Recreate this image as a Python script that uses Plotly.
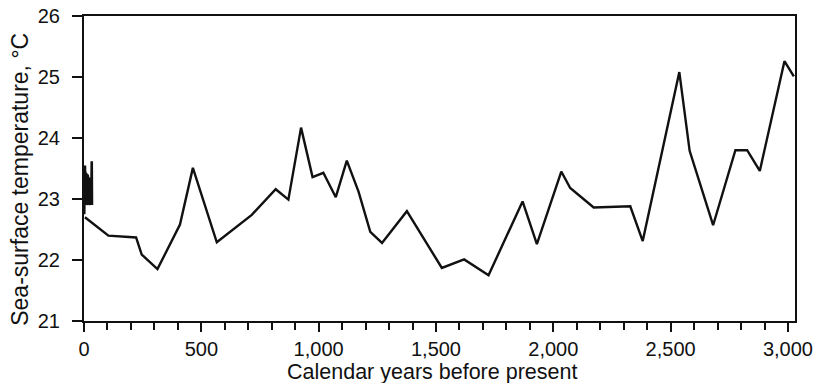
import plotly.graph_objects as go

# Main record: calendar years before present and sea-surface temperature (°C)
years = [4, 104, 222, 246, 313, 409, 464, 566, 715, 817, 871, 925, 974, 1020,
         1073, 1120, 1170, 1220, 1270, 1376, 1525, 1620, 1724, 1869, 1930, 2034,
         2072, 2172, 2328, 2381, 2537, 2581, 2681, 2776, 2826, 2880, 2985, 3025]
sst = [22.70, 22.40, 22.37, 22.09, 21.85, 22.58, 23.51, 22.29, 22.74, 23.16,
       22.99, 24.17, 23.36, 23.43, 23.03, 23.63, 23.12, 22.46, 22.28, 22.80,
       21.87, 22.01, 21.75, 22.96, 22.26, 23.45, 23.18, 22.86, 22.88, 22.31,
       25.08, 23.79, 22.57, 23.80, 23.80, 23.46, 25.26, 25.01]

# Dense recent (multi-decadal) record near the present
recent_years = [1, 2, 3, 4, 5, 6, 7, 8, 9, 10, 11, 12, 13, 14, 15, 16, 17, 18,
                19, 20, 21, 22, 23, 24, 25, 26, 27, 28, 29, 30, 31, 32, 33, 34]
recent_sst = [22.75, 23.50, 22.90, 23.55, 22.95, 23.45, 22.92, 23.40, 22.90,
              23.42, 22.95, 23.38, 22.90, 23.35, 22.93, 23.40, 22.90, 23.36,
              22.95, 23.32, 22.90, 23.35, 22.92, 23.30, 22.95, 23.28, 22.90,
              23.30, 22.95, 23.25, 22.92, 23.40, 23.62, 22.90]

x_ticks = [0, 500, 1000, 1500, 2000, 2500, 3000]
x_ticklabels = ["0", "500", "1,000", "1,500", "2,000", "2,500", "3,000"]
y_ticks = [21, 22, 23, 24, 25, 26]
x_title = "Calendar years before present"
y_title = "Sea-surface temperature, °C"

FONT = "Liberation Sans, Arial, Helvetica, sans-serif"

fig = go.Figure()
fig.add_trace(go.Scatter(x=recent_years, y=recent_sst, mode="lines",
                         line=dict(color="#111111", width=2.6), showlegend=False,
                         hoverinfo="skip"))
fig.add_trace(go.Scatter(x=years, y=sst, mode="lines",
                         line=dict(color="#111111", width=2.4), showlegend=False))

fig.update_layout(
    width=821, height=383,
    margin=dict(l=84, r=26, t=16, b=62),
    paper_bgcolor="white", plot_bgcolor="white",
    font=dict(family=FONT, color="#111111", size=20),
    xaxis=dict(
        range=[0, 3030], tickmode="array", tickvals=x_ticks, ticktext=x_ticklabels,
        ticks="outside", ticklen=9, tickwidth=1.5, tickcolor="#111111",
        minor=dict(dtick=100, ticks="outside", ticklen=7, tickwidth=1.5, tickcolor="#111111"),
        showline=True, linecolor="#111111", linewidth=2, mirror=True,
        showgrid=False, zeroline=False, automargin=False,
        tickfont=dict(size=20), ticklabelstandoff=0,
    ),
    yaxis=dict(
        range=[21, 26], tickmode="array", tickvals=y_ticks,
        ticks="outside", ticklen=10, tickwidth=1.5, tickcolor="#111111",
        showline=True, linecolor="#111111", linewidth=2, mirror=True,
        showgrid=False, zeroline=False, automargin=False,
        tickfont=dict(size=20), ticklabelstandoff=8,
    ),
    annotations=[
        dict(text=x_title, xref="paper", yref="paper", x=0.49, y=-0.166,
             xanchor="center", yanchor="middle", showarrow=False,
             font=dict(size=21.5)),
        dict(text=y_title, xref="paper", yref="paper", x=-0.09, y=0.463,
             xanchor="center", yanchor="middle", showarrow=False, textangle=-90,
             font=dict(size=23)),
    ],
)

fig.write_html(
    "out.html",
    config={"displayModeBar": False},
    post_script="document.body.style.margin='0';document.body.style.overflow='hidden';",
)
